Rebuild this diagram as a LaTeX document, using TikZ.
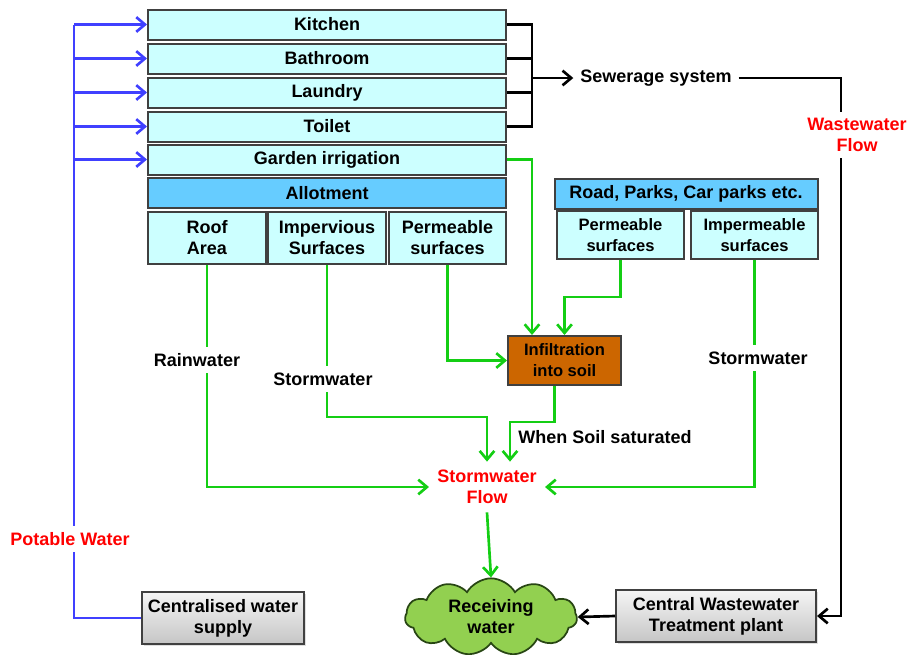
\documentclass[tikz,border=0pt]{standalone}
\usepackage{fontspec}
\setmainfont{Liberation Sans}
\usetikzlibrary{arrows.meta,shapes.symbols,shadows,positioning}
\definecolor{roomfill}{RGB}{204,255,255}
\definecolor{headfill}{RGB}{102,204,255}
\definecolor{soilfill}{RGB}{204,102,0}
\definecolor{boxline}{RGB}{64,64,64}
\definecolor{potableblue}{RGB}{64,64,255}
\definecolor{stormgreen}{RGB}{20,206,20}
\definecolor{cloudgreen}{RGB}{146,208,80}
\definecolor{cloudline}{RGB}{40,70,20}
\tikzset{every picture/.style={line width=0.75pt}}
\tikzset{
  roombox/.style={draw=boxline, line width=1.5pt, fill=roomfill, inner sep=0pt, align=center, font=\bfseries\fontsize{13.5}{15.75}\selectfont},
  headbox/.style={roombox, fill=headfill},
  smallbox/.style={roombox, font=\bfseries\fontsize{12.4}{15.75}\selectfont},
  plantbox/.style={roombox, top color=gray!8, bottom color=gray!45, drop shadow={opacity=0.25, shadow xshift=1.5pt, shadow yshift=-1.5pt}},
  pipe/.style={line width=2pt},
  tip/.style={-{Straight Barb[length=6.5pt,width=11pt]}},
  bluepipe/.style={pipe, draw=potableblue},
  greenpipe/.style={pipe, draw=stormgreen},
  blackpipe/.style={pipe, draw=black},
  linelabel/.style={fill=white, inner sep=5pt, align=center, font=\bfseries\fontsize{13.5}{15.75}\selectfont},
}
\begin{document}
\begin{tikzpicture}[x=0.75pt,y=0.75pt,yscale=-1,xscale=1]
\useasboundingbox (0,0) rectangle (909,657);

% Household uses
\node[roombox, minimum width=268.5pt, minimum height=22.5pt] (kitchen) at (327,24.5) {Kitchen};
\node[roombox, minimum width=268.5pt, minimum height=22.5pt] (bathroom) at (327,58.5) {Bathroom};
\node[roombox, minimum width=268.5pt, minimum height=22.5pt] (laundry) at (327,92.5) {Laundry};
\node[roombox, minimum width=268.5pt, minimum height=22.5pt] (toilet) at (327,126.5) {Toilet};
\node[roombox, minimum width=268.5pt, minimum height=22.5pt] (garden) at (327,159.5) {Garden irrigation};
\node[headbox, minimum width=268.5pt, minimum height=22.5pt] (allotment) at (327,193) {Allotment};
\node[roombox, minimum width=88.5pt, minimum height=39pt] (roof) at (207,238) {Roof\\Area};
\node[roombox, minimum width=88.5pt, minimum height=39pt] (imperv) at (327,238) {Impervious\\Surfaces};
\node[roombox, minimum width=87.75pt, minimum height=39pt] (perm) at (447.5,238) {Permeable\\surfaces};

% Public surfaces
\node[headbox, minimum width=197.25pt, minimum height=22.5pt] (road) at (686,193.5) {Road, Parks, Car parks etc.};
\node[smallbox, minimum width=95.25pt, minimum height=36pt] (roadperm) at (620.5,235) {Permeable\\surfaces};
\node[smallbox, minimum width=95.25pt, minimum height=36pt] (imperm) at (754.5,235) {Impermeable\\surfaces};
\node[smallbox, fill=soilfill, minimum width=84.75pt, minimum height=36.75pt] (infil) at (564.5,360.5) {Infiltration\\into soil};

% Plants and receiving water
\node[plantbox, minimum width=121.5pt, minimum height=39pt] (supply) at (223,618) {Centralised water\\supply};
\node[plantbox, minimum width=150pt, minimum height=39pt] (wwtp) at (716,616) {Central Wastewater\\Treatment plant};
\node[cloud, cloud puffs=11, cloud puff arc=120, aspect=2.2, draw=cloudline, line width=1.3pt, fill=cloudgreen, minimum width=129pt, minimum height=58pt, inner sep=0pt, align=center, font=\bfseries\fontsize{13.5}{15.75}\selectfont] (cloud) at (491,617) {Receiving\\water};

% Text Node
\node[inner sep=5pt, font=\bfseries\fontsize{13.5}{15.75}\selectfont] (sewer) at (656,78) {Sewerage system};
% Text Node
\node[inner sep=6pt, align=center, text=red, font=\bfseries\fontsize{13.5}{15.75}\selectfont] (flow) at (487,487) {Stormwater\\Flow};

\coordinate (spine) at (74,24.5);
\coordinate (junction) at (532,78);
\coordinate (drop) at (841,78);
\coordinate (gardenturn) at (532,159.5);
\coordinate (soakturn) at (564.5,297);
\coordinate (stormturn) at (487,417);
\coordinate (wetturn) at (510,422);

%Potable water lines
\draw[bluepipe] (supply.west) -| (spine);
\draw[bluepipe, tip] (spine) -- (kitchen.west);
\draw[bluepipe, tip] (spine |- bathroom.west) -- (bathroom.west);
\draw[bluepipe, tip] (spine |- laundry.west) -- (laundry.west);
\draw[bluepipe, tip] (spine |- toilet.west) -- (toilet.west);
\draw[bluepipe, tip] (spine |- garden.west) -- (garden.west);

%Sewer lines
\draw[blackpipe] (kitchen.east) -- (kitchen.east -| junction) -- (toilet.east -| junction) -- (toilet.east);
\draw[blackpipe] (bathroom.east) -- (bathroom.east -| junction);
\draw[blackpipe] (laundry.east) -- (laundry.east -| junction);
\draw[blackpipe, tip] (junction) -- (sewer.west);
\draw[blackpipe, tip] (sewer.east) -- (drop) |- (wwtp.east);
\draw[blackpipe, tip] (wwtp.west) -- (cloud.east);

%Stormwater lines
\draw[greenpipe, tip] (garden.east) -- (gardenturn) -- (gardenturn |- infil.north);
\draw[greenpipe, tip] (roadperm.south) |- (soakturn) -- (infil.north);
\draw[greenpipe, tip] (perm.south) |- (infil.west);
\draw[greenpipe, tip] (roof.south) |- (flow.west);
\draw[greenpipe, tip] (imperv.south) |- (stormturn) -- (flow.north);
\draw[greenpipe, tip] ([xshift=-7.5pt]infil.south) |- (wetturn) -- (wetturn |- flow.north);
\draw[greenpipe, tip] (imperm.south) |- (flow.east);
\draw[greenpipe, tip] (flow.south) -- (cloud.north);

% Text Node
\node[linelabel] (rain) at (197,360) {Rainwater};
% Text Node
\node[linelabel] (stormleft) at (323,379) {Stormwater};
% Text Node
\node[linelabel] (stormright) at (758,358) {Stormwater};
% Text Node
\node[linelabel, text=red] (potable) at (70,539) {Potable Water};
% Text Node
\node[linelabel, text=red] (waste) at (857,135) {Wastewater\\Flow};
% Text Node
\node[font=\bfseries\fontsize{13.5}{15.75}\selectfont] (saturated) at (605,437) {When Soil saturated};
\end{tikzpicture}
\end{document}
